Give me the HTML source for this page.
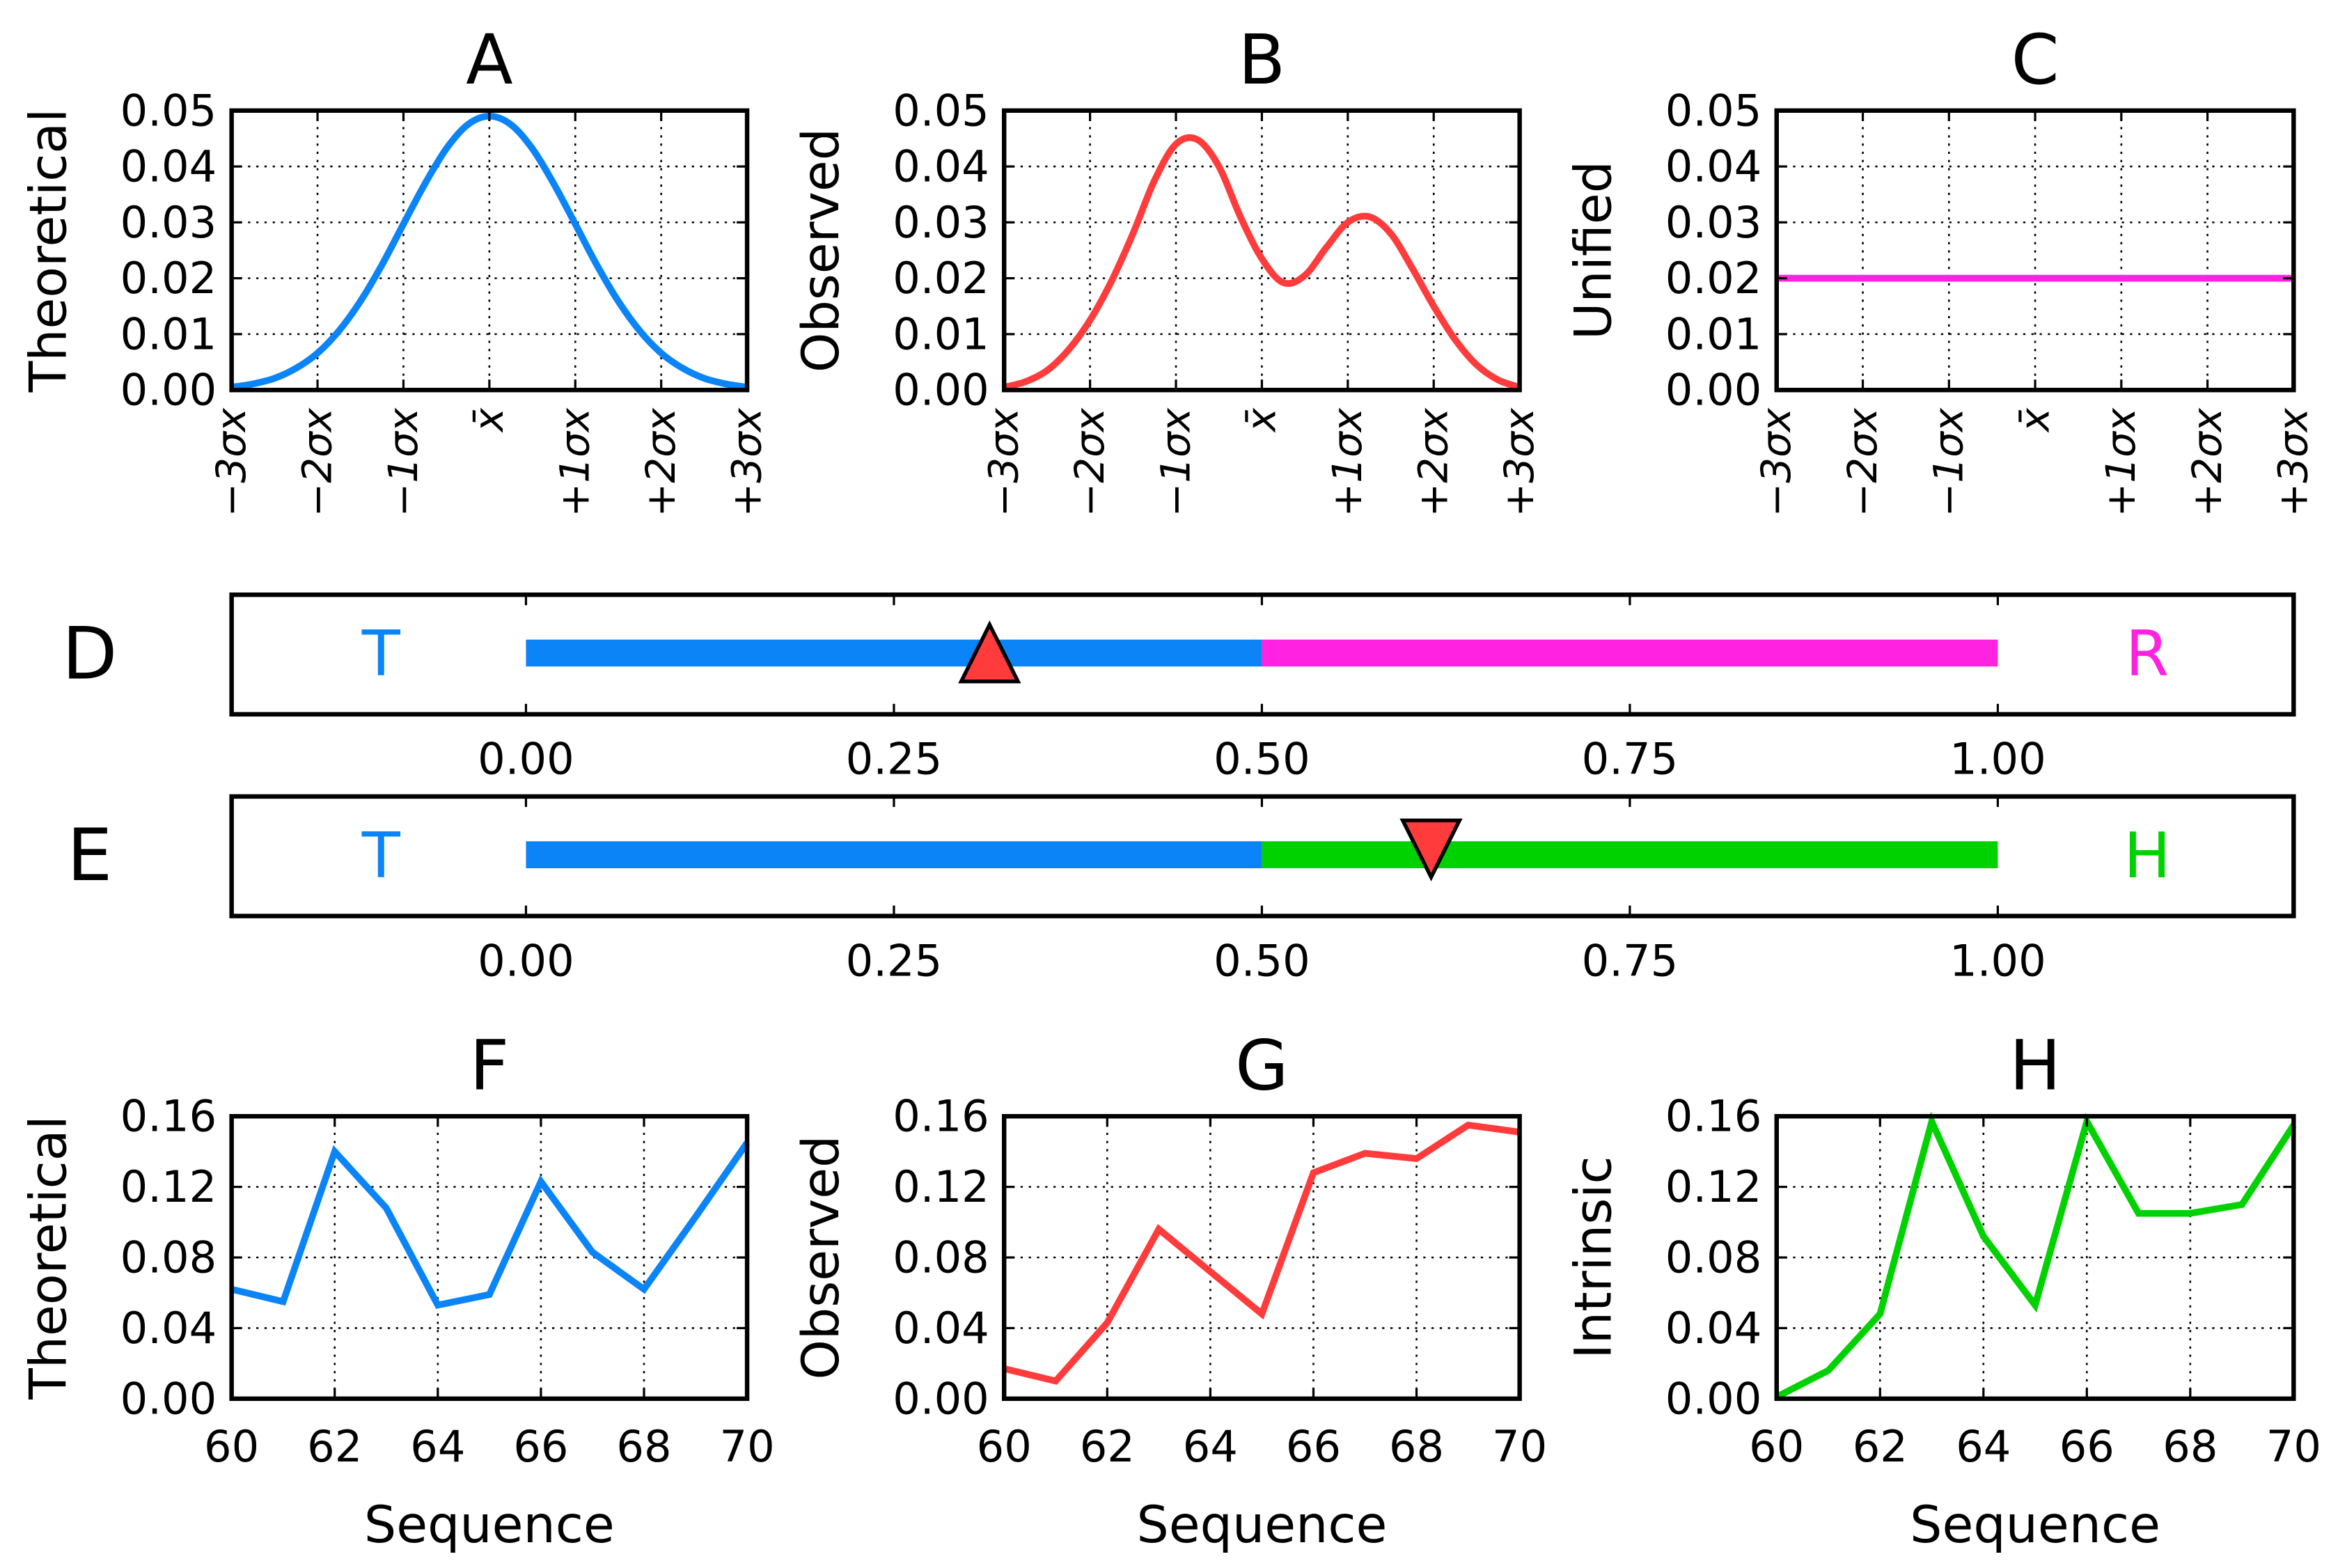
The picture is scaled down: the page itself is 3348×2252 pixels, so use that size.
<!DOCTYPE html>
<html><head><meta charset="utf-8"><style>html,body{margin:0;padding:0;background:#fff}svg{display:block}text{font-family:"DejaVu Sans","Liberation Sans",sans-serif}</style></head>
<body>
<svg id="fig" xmlns="http://www.w3.org/2000/svg" width="3348" height="2252" viewBox="0 0 1560 1049.3" preserveAspectRatio="none"></svg>
<script>
const sigmaTicks = ['−3σx','−2σx','−1σx','x̄','+1σx','+2σx','+3σx'];
const zGrid = [-3,-2.75,-2.5,-2.25,-2,-1.75,-1.5,-1.25,-1,-0.75,-0.5,-0.25,0,0.25,0.5,0.75,1,1.25,1.5,1.75,2,2.25,2.5,2.75,3];
const theoreticalDensity = [0.0005,0.0011,0.0021,0.0039,0.0066,0.0106,0.0159,0.0224,0.0297,0.0369,0.0432,0.0475,0.0490,0.0475,0.0432,0.0369,0.0297,0.0224,0.0159,0.0106,0.0066,0.0039,0.0021,0.0011,0.0005];
const observedDensity = [0.0005,0.0015,0.0035,0.0072,0.0125,0.0195,0.0280,0.0375,0.0440,0.0448,0.0400,0.0310,0.0235,0.0192,0.0205,0.0255,0.0300,0.0310,0.0280,0.0218,0.0150,0.0090,0.0045,0.0018,0.0005];
const unifiedDensity = [0.02,0.02,0.02,0.02,0.02,0.02,0.02,0.02,0.02,0.02,0.02,0.02,0.02,0.02,0.02,0.02,0.02,0.02,0.02,0.02,0.02,0.02,0.02,0.02,0.02];
const densityTicks = [0,0.01,0.02,0.03,0.04,0.05];
const sequence = [60,61,62,63,64,65,66,67,68,69,70];
const theoreticalSeq = [0.062,0.055,0.140,0.108,0.053,0.059,0.123,0.083,0.062,0.103,0.145];
const observedSeq = [0.017,0.010,0.043,0.096,0.072,0.048,0.128,0.139,0.136,0.155,0.151];
const intrinsicSeq = [0.001,0.016,0.048,0.157,0.092,0.053,0.157,0.105,0.105,0.110,0.155];
const seqYTicks = [0,0.04,0.08,0.12,0.16];
const seqXTicks = [60,62,64,66,68,70];
const barTicks = [0,0.25,0.5,0.75,1];
const markerD = 0.315;
const markerE = 0.615;

const svg = document.getElementById('fig');
const NS = 'http://www.w3.org/2000/svg';
function el(tag, attrs, parent){const e=document.createElementNS(NS,tag);for(const k in attrs)e.setAttribute(k,attrs[k]);(parent||svg).appendChild(e);return e;}
function txt(s, attrs, parent){const e=el('text',attrs,parent);e.textContent=s;return e;}
const BLUE='#0a84f7', RED='#ff3b3b', MAG='#ff22e0', GREEN='#00d200';

function smoothPath(P){
  let d='M'+P[0][0].toFixed(2)+','+P[0][1].toFixed(2);
  for(let i=0;i<P.length-1;i++){
    const p0=P[Math.max(i-1,0)],p1=P[i],p2=P[i+1],p3=P[Math.min(i+2,P.length-1)];
    const c1=[p1[0]+(p2[0]-p0[0])/6,p1[1]+(p2[1]-p0[1])/6];
    const c2=[p2[0]-(p3[0]-p1[0])/6,p2[1]-(p3[1]-p1[1])/6];
    d+=` C${c1[0].toFixed(2)},${c1[1].toFixed(2)} ${c2[0].toFixed(2)},${c2[1].toFixed(2)} ${p2[0].toFixed(2)},${p2[1].toFixed(2)}`;
  }
  return d;
}

function panel(o){
  const g=el('g',{});
  
  
  const sx=v=>o.x0+(v-o.xmin)/(o.xmax-o.xmin)*(o.x1-o.x0);
  const sy=v=>o.y1-(v-o.ymin)/(o.ymax-o.ymin)*(o.y1-o.y0);
  o.xt.forEach(v=>{const X=sx(v);if(X>o.x0+1&&X<o.x1-1){const l=el('line',{x1:X,x2:X,y1:o.y0,y2:o.y1,stroke:'#000','stroke-width':1.2,'stroke-dasharray':'1.5,4'},g);}});
  o.yt.forEach(v=>{const Y=sy(v);if(Y>o.y0+1&&Y<o.y1-1){const l=el('line',{x1:o.x0,x2:o.x1,y1:Y,y2:Y,stroke:'#000','stroke-width':1.2,'stroke-dasharray':'1.5,4'},g);}});
  const P=o.xs.map((x,i)=>[sx(x),sy(o.ys[i])]);
  let pl;
  if(o.smooth){pl=el('path',{d:smoothPath(P),fill:'none',stroke:o.color,'stroke-width':4.5},g);}
  else{pl=el('polyline',{points:P.map(p=>p[0].toFixed(2)+','+p[1].toFixed(2)).join(' '),fill:'none',stroke:o.color,'stroke-width':4.5,'stroke-linejoin':'miter'},g);}
  
  
  o.yt.forEach(v=>{const Y=sy(v);el('line',{x1:o.x0,x2:o.x0+7,y1:Y,y2:Y,stroke:'#000','stroke-width':1.5},g);el('line',{x1:o.x1,x2:o.x1-7,y1:Y,y2:Y,stroke:'#000','stroke-width':1.5},g);
    const t=txt(o.yfmt(v),{x:o.x0-10,y:Y+10,'text-anchor':'end','font-size':29},g);});
  o.xt.forEach((v,i)=>{const X=sx(v);el('line',{x1:X,x2:X,y1:o.y1,y2:o.y1-7,stroke:'#000','stroke-width':1.5},g);el('line',{x1:X,x2:X,y1:o.y0,y2:o.y0+7,stroke:'#000','stroke-width':1.5},g);
    let t;
    if(o.rot){t=txt(o.xl[i],{x:0,y:0,'text-anchor':'end','font-size':27,'font-family':'"DejaVu Serif","Liberation Serif",serif','font-style':'italic',transform:`translate(${X+9},${o.y1+12}) rotate(-90)`},g);}
    else{t=txt(o.xl[i],{x:X,y:o.y1+42,'text-anchor':'middle','font-size':29},g);}
    });
  const fr=el('rect',{x:o.x0,y:o.y0,width:o.x1-o.x0,height:o.y1-o.y0,fill:'none',stroke:'#000','stroke-width':3},g);
  
  const ti=txt(o.title,{x:(o.x0+o.x1)/2,y:o.y0-18,'text-anchor':'middle','font-size':46},g);
  
  const cy=(o.y0+o.y1)/2;
  const yl=txt(o.ylabel,{x:0,y:0,'text-anchor':'middle','font-size':34,transform:`translate(${o.x0-111},${cy}) rotate(-90)`},g);
  
  if(o.xlabel){const xl=txt(o.xlabel,{x:(o.x0+o.x1)/2,y:o.y1+96,'text-anchor':'middle','font-size':34},g);}
}
const cols=[[155,500],[672,1017],[1189,1535]];
const sigmaVals=[-3,-2,-1,0,1,2,3];
const f2=v=>v.toFixed(2);
[['A','Theoretical',theoreticalDensity,BLUE,'panel-a'],['B','Observed',observedDensity,RED,'panel-b'],['C','Unified',unifiedDensity,MAG,'panel-c']].forEach((p,i)=>{
  panel({name:p[4],title:p[0],ylabel:p[1],xs:zGrid,ys:p[2],color:p[3],x0:cols[i][0],x1:cols[i][1],y0:74,y1:261,xmin:-3,xmax:3,ymin:0,ymax:0.05,xt:sigmaVals,xl:sigmaTicks,yt:densityTicks,yfmt:f2,rot:true,smooth:true});
});
[['F','Theoretical',theoreticalSeq,BLUE,'panel-f'],['G','Observed',observedSeq,RED,'panel-g'],['H','Intrinsic',intrinsicSeq,GREEN,'panel-h']].forEach((p,i)=>{
  panel({name:p[4],title:p[0],ylabel:p[1],xlabel:'Sequence',xs:sequence,ys:p[2],color:p[3],x0:cols[i][0],x1:cols[i][1],y0:747,y1:936,xmin:60,xmax:70,ymin:0,ymax:0.16,xt:seqXTicks,xl:seqXTicks.map(String),yt:seqYTicks,yfmt:f2,rot:false,smooth:false});
});
function bar(o){
  const g=el('g',{});
  
  
  const x0=155,x1=1535;const sx=v=>352+v*985;
  const fr=el('rect',{x:x0,y:o.y0,width:x1-x0,height:80,fill:'none',stroke:'#000','stroke-width':3},g);
  
  const cy=o.y0+39;
  const b1=el('line',{x1:sx(0),x2:sx(0.5),y1:cy,y2:cy,stroke:BLUE,'stroke-width':18},g);
  
  const b2=el('line',{x1:sx(0.5),x2:sx(1),y1:cy,y2:cy,stroke:o.color,'stroke-width':18},g);
  
  barTicks.forEach(v=>{const X=sx(v);el('line',{x1:X,x2:X,y1:o.y0+80,y2:o.y0+73,stroke:'#000','stroke-width':1.5},g);el('line',{x1:X,x2:X,y1:o.y0,y2:o.y0+7,stroke:'#000','stroke-width':1.5},g);
    const t=txt(v.toFixed(2),{x:X,y:o.y0+120,'text-anchor':'middle','font-size':29},g);});
  const mx=sx(o.m);const d=o.up?1:-1;const my=o.up?cy:cy-4;
  const tri=el('polygon',{points:`${mx-19},${my+d*19} ${mx+19},${my+d*19} ${mx},${my-d*19}`,fill:RED,stroke:'#000','stroke-width':2.5,'stroke-linejoin':'miter'},g);
  
  const l=txt(o.label,{x:60,y:cy+17,'text-anchor':'middle','font-size':48},g);
  const t1=txt('T',{x:255,y:cy+15,'text-anchor':'middle','font-size':42,fill:BLUE},g);
  const t2=txt(o.end,{x:1437,y:cy+15,'text-anchor':'middle','font-size':42,fill:o.color},g);
}
bar({name:'panel-d',y0:398,color:MAG,m:markerD,up:true,label:'D',end:'R'});
bar({name:'panel-e',y0:533,color:GREEN,m:markerE,up:false,label:'E',end:'H'});
</script>
</body></html>
